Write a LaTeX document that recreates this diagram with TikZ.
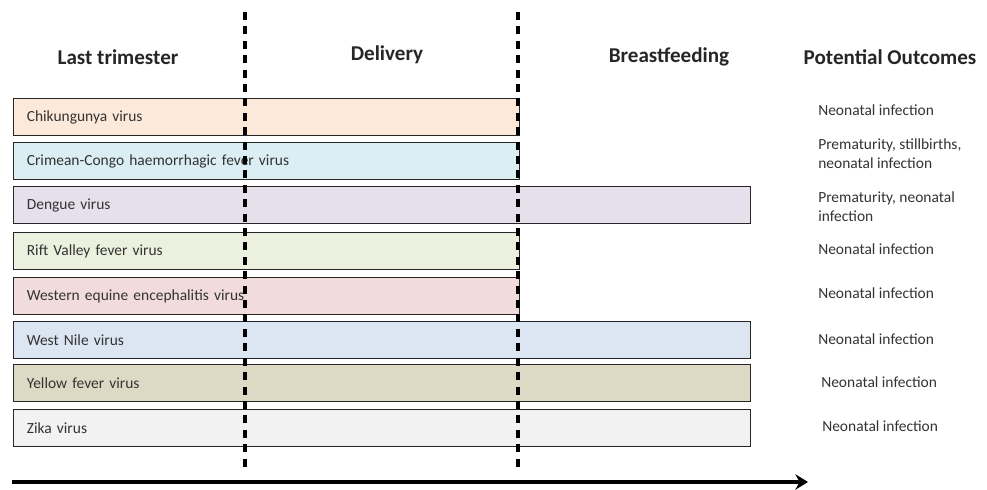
\documentclass[tikz,border=0pt]{standalone}
\usepackage{fontspec}
\setmainfont{Carlito}
\usepackage{tikz}
\usetikzlibrary{arrows.meta, positioning}

\definecolor{chikcol}{HTML}{FDE9D9}
\definecolor{cchfcol}{HTML}{DAEEF3}
\definecolor{dengcol}{HTML}{E5E0EC}
\definecolor{riftcol}{HTML}{EBF1DE}
\definecolor{weeqcol}{HTML}{F2DCDB}
\definecolor{nilecol}{HTML}{DCE6F2}
\definecolor{yfevcol}{HTML}{DDD9C4}
\definecolor{zikacol}{HTML}{F2F2F2}

\begin{document}
\begin{tikzpicture}[
  x=0.025cm, y=-0.025cm,
  head/.style={font=\fontsize{15}{18}\selectfont\bfseries, text=black!85},
  bar/.style={rectangle, draw=black!85, line width=0.9pt, fill=#1,
              anchor=north west, minimum height=0.925cm, inner xsep=0.33cm,
              align=left, font=\fontsize{11}{13}\selectfont, text=black!80},
  shortbar/.style={bar=#1, text width=11.99cm},
  longbar/.style={bar=#1, text width=17.765cm},
  outcome/.style={anchor=west, align=left, inner sep=0pt,
              font=\fontsize{11}{13.5}\selectfont, text=black!80},
  phase/.style={line width=2.5pt, dash pattern=on 0.2cm off 0.16cm},
  arr/.style={-{Stealth[length=9pt, width=11pt, inset=3pt]}, line width=2.8pt},
]
\useasboundingbox (0,0) rectangle (987,489);

% column headings
\node[head] (hlast)  at (118,57) {Last trimester};
\node[head] (hdeliv) at (387,55) {Delivery};
\node[head] (hbreast) at (669,57) {Breastfeeding};
\node[head] (hout)   at (890,57) {Potential Outcomes};

% virus bars
\node[shortbar=chikcol] (chik) at (13,98)  {Chikungunya virus};
\node[shortbar=cchfcol] (cchf) at (13,142) {Crimean-Congo haemorrhagic fever virus};
\node[longbar=dengcol]  (deng) at (13,186) {Dengue virus};
\node[shortbar=riftcol] (rift) at (13,232) {Rift Valley fever virus};
\node[shortbar=weeqcol] (weeq) at (13,277) {Western equine encephalitis virus};
\node[longbar=nilecol]  (nile) at (13,321) {West Nile virus};
\node[longbar=yfevcol]  (yfev) at (13,364) {Yellow fever virus};
\node[longbar=zikacol]  (zika) at (13,409) {Zika virus};

% outcomes
\node[outcome] (ochik) at (818,110) {Neonatal infection};
\node[outcome] (occhf) at (818,154) {Prematurity, stillbirths,\\neonatal infection};
\node[outcome] (odeng) at (818,207) {Prematurity, neonatal\\infection};
\node[outcome] (orift) at (818,249) {Neonatal infection};
\node[outcome] (oweeq) at (818,293) {Neonatal infection};
\node[outcome] (onile) at (818,339) {Neonatal infection};
\node[outcome] (oyfev) at (821,382) {Neonatal infection};
\node[outcome] (ozika) at (822,426) {Neonatal infection};

% phase borders
\coordinate (btop1) at (245,12);
\coordinate (bbot1) at (245,470);
\coordinate (btop2) at (518,12);
\coordinate (bbot2) at (518,470);
\draw[phase] (btop1) -- (bbot1);
\draw[phase] (btop2) -- (bbot2);

% time axis
\coordinate (tstart) at (12,482);
\coordinate (tend) at (808,482);
\draw[arr] (tstart) -- (tend);
\end{tikzpicture}
\end{document}
